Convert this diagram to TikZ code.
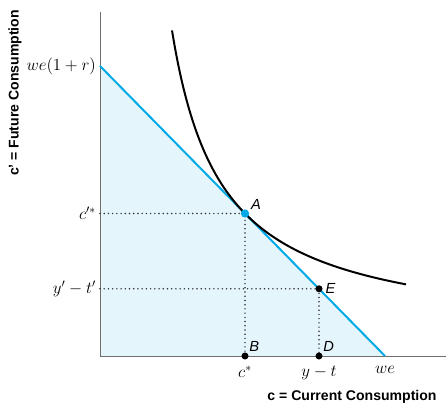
\documentclass[tikz,border=0pt]{standalone}
\usepackage{fontspec}
\setsansfont{Liberation Sans}
\usetikzlibrary{positioning}
\definecolor{cBudget}{RGB}{0,170,230}
\definecolor{cShade}{RGB}{228,245,252}
\definecolor{cAxis}{RGB}{110,110,110}
\tikzset{
	axisline/.style ={draw=cAxis, line width=0.8pt},
	budget/.style   ={draw=cBudget, line width=1.7pt},
	icurve/.style   ={draw=black, line width=1.7pt},
	guide/.style    ={line width=1.4pt, dash pattern=on 0pt off 3.6pt, line cap=round, black!80},
	dotpt/.style    ={circle, fill=black, inner sep=0pt, minimum size=6pt},
	ptlabel/.style  ={font=\fontsize{12.5}{15}\sffamily\itshape},
	axtitle/.style  ={font=\fontsize{12}{14}\sffamily\bfseries},
	vallabel/.style ={font=\fontsize{14}{16}\selectfont},
}
\begin{document}
\begin{tikzpicture}[x=0.03cm, y=0.03cm]
	\useasboundingbox (-100,-49) rectangle (346,356);
	% axes and budget set
	\coordinate (O) at (0,0);
	\coordinate (ytop) at (0,344);
	\coordinate (xend) at (346,0);
	\coordinate (yint) at (0,290);
	\coordinate (xint) at (285,0);
	\fill[cShade] (O) -- (yint) -- (xint) -- cycle;
	\draw[axisline] (ytop) -- (O) -- (xend);
	% points
	\coordinate (A) at (145,142.5);
	\coordinate (E) at (219,67.2);
	\coordinate (B) at (145,0);
	\coordinate (D) at (219,0);
	\coordinate (cA) at (0,142.5);
	\coordinate (cE) at (0,67.2);
	\draw[guide] (cA) -- (A) -- (B);
	\draw[guide] (cE) -- (E) -- (D);
	\draw[budget] (yint) -- (xint);
	\draw[icurve] plot[domain=72:306, samples=90, smooth] (\x, {15336/(\x-22.2)+17.6});
	\node[dotpt, fill=cBudget, minimum size=7pt] (dA) at (A) {};
	\node[dotpt] (dE) at (E) {};
	\node[dotpt] (dB) at (B) {};
	\node[dotpt] (dD) at (D) {};
	\node[ptlabel, above right=-3pt and -1pt of dA] {A};
	\node[ptlabel, right=-1pt of dE] {E};
	\node[ptlabel, above right=-2pt and -2pt of dB] {B};
	\node[ptlabel, above right=-2pt and -2pt of dD] {D};
	% axis labels
	\node[vallabel, left=0pt of yint] {$we(1+r)$};
	\node[vallabel, left=0pt of cA] {$c'^{*}$};
	\node[vallabel, left=0pt of cE] {$y'-t'$};
	\node[vallabel, below=5pt of B] {$c^{*}$};
	\node[vallabel, below=5pt of D] {$y-t$};
	\node[vallabel, below=5pt of xint] {$we$};
	\node[axtitle] (xtitle) at (252,-41) {c = Current Consumption};
	\node[axtitle, rotate=90] (ytitle) at (-85,263) {c' = Future Consumption};
\end{tikzpicture}
\end{document}
